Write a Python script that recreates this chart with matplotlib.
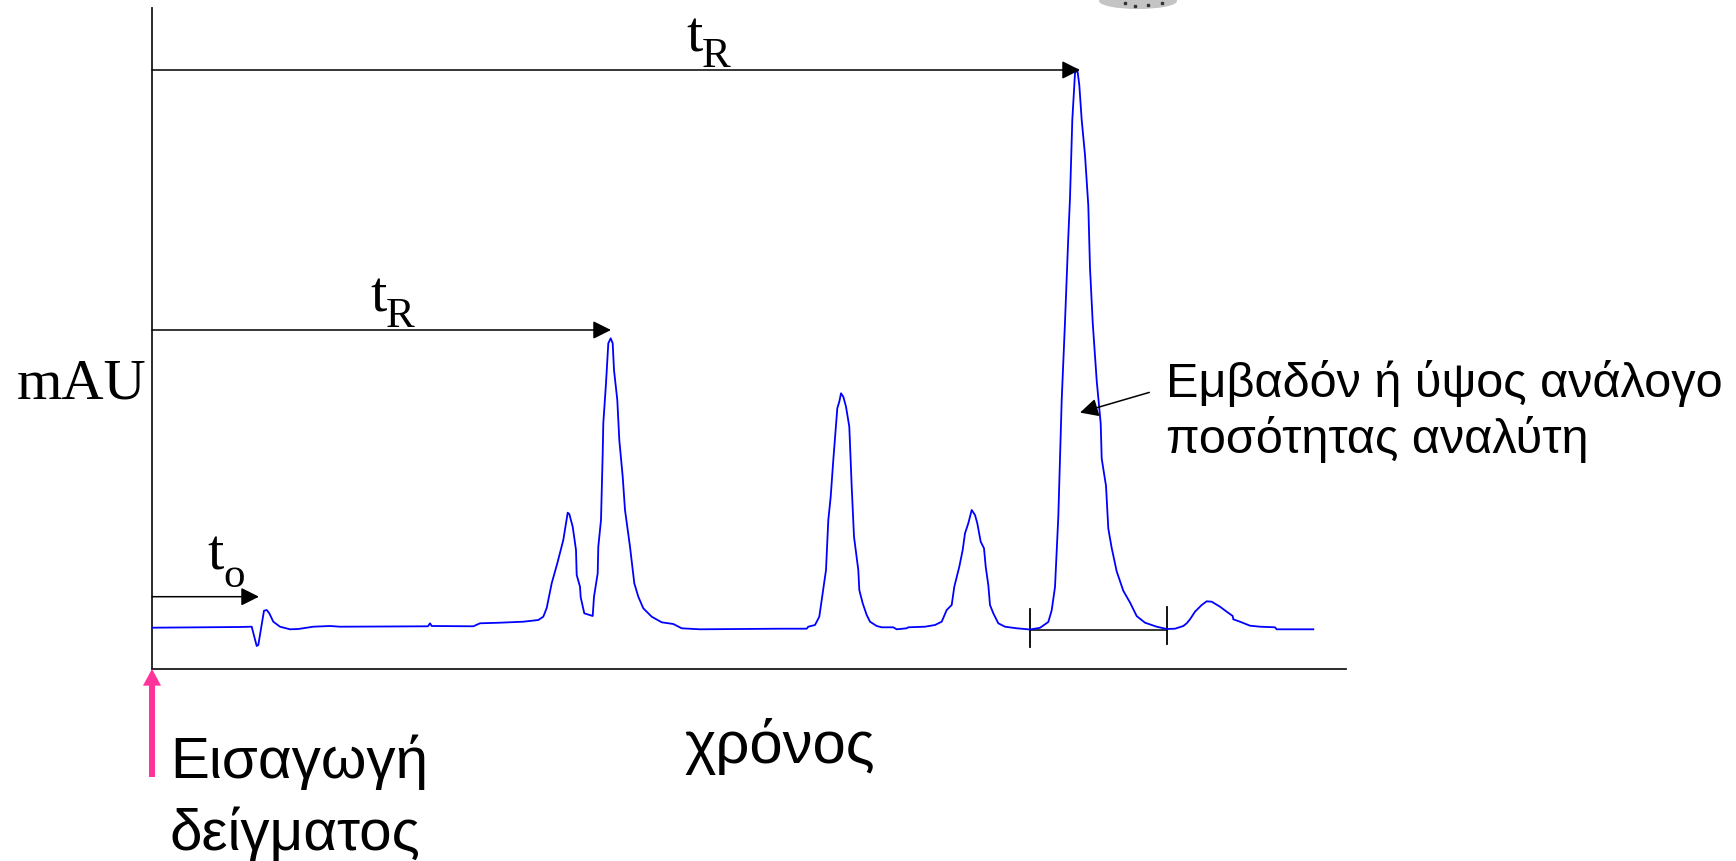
"""
Schematic chromatogram: dead time t0, retention times tR and the
integrated area of the main peak (Greek labels, as in the lecture slide).

    python plot.py            # writes out.png
"""
import matplotlib
matplotlib.use("Agg")
import matplotlib.pyplot as plt
from matplotlib.patches import FancyArrowPatch, Ellipse

# detector trace (time in arbitrary units, signal in mAU)
time = [0.0, 8.8, 9.97, 10.47, 10.63, 11.2, 11.47, 11.73, 12.13, 12.8, 13.8, 14.63,
        16.13, 17.8, 18.8, 26.8, 27.6, 27.8, 27.97, 32.13, 32.8, 34.8, 37.13, 38.63,
        39.13, 39.47, 39.97, 40.53, 41.13, 41.57, 41.73, 42.07, 42.4, 42.47, 42.8,
        42.87, 43.23, 44.07, 44.2, 44.57, 44.63, 44.9, 45.07, 45.13, 45.4, 45.63,
        45.87, 46.07, 46.2, 46.53, 46.73, 47.07, 47.3, 47.8, 48.23, 48.63, 49.13,
        49.97, 50.97, 52.13, 52.97, 54.8, 62.8, 65.47, 65.63, 66.3, 66.73, 66.97,
        67.4, 67.63, 67.87, 68.13, 68.53, 68.73, 68.9, 69.13, 69.4, 69.73, 69.97,
        70.2, 70.63, 70.73, 71.07, 71.47, 71.8, 72.47, 72.97, 74.13, 74.47, 75.47,
        75.63, 77.3, 78.3, 78.97, 79.47, 79.97, 80.23, 80.73, 81.07, 81.3, 81.63,
        81.97, 82.3, 82.53, 82.87, 83.2, 83.37, 83.63, 83.8, 84.13, 84.63, 85.3,
        86.47, 87.8, 88.8, 89.63, 89.97, 90.3, 90.63, 90.97, 91.3, 91.63, 91.8,
        92.03, 92.3, 92.53, 92.73, 92.97, 93.3, 93.63, 93.8, 94.07, 94.47, 94.87,
        94.97, 95.4, 95.63, 95.97, 96.47, 96.8, 97.13, 97.8, 98.47, 99.3, 100.47,
        101.47, 102.3, 103.13, 103.47, 103.8, 104.3, 104.97, 105.47, 105.97, 106.8,
        107.47, 108.07, 108.13, 108.8, 109.8, 110.8, 112.3, 112.47, 116.13]
signal = [8.26, 8.4, 8.46, 4.6, 4.8, 11.66, 11.8, 11.14, 9.46, 8.46, 7.94, 8.0,
          8.46, 8.6, 8.46, 8.54, 8.54, 9.14, 8.6, 8.54, 9.14, 9.26, 9.46, 9.8,
          10.46, 12.2, 17.14, 21.14, 25.8, 31.26, 31.0, 28.46, 23.8, 18.8, 16.46,
          14.34, 11.14, 10.6, 14.46, 19.14, 24.46, 29.8, 43.14, 49.14, 57.14, 65.14,
          66.14, 65.14, 59.8, 53.8, 45.8, 38.46, 31.8, 24.46, 17.14, 14.46, 12.14,
          10.46, 9.34, 9.0, 8.14, 7.94, 8.06, 8.06, 8.46, 8.8, 10.46, 13.8,
          19.8, 29.8, 34.46, 41.8, 52.14, 53.46, 55.14, 54.46, 52.46, 48.46, 36.46,
          26.46, 19.8, 15.8, 13.14, 10.8, 9.46, 8.6, 8.34, 8.34, 7.94, 8.14,
          8.34, 8.46, 8.8, 9.46, 11.8, 12.8, 16.46, 20.46, 23.8, 27.14, 29.14,
          31.8, 30.8, 29.14, 25.46, 24.14, 20.46, 16.8, 12.8, 11.14, 9.14, 8.46,
          8.14, 7.9, 8.24, 9.4, 11.74, 16.4, 30.4, 53.8, 69.4, 86.44, 94.22,
          109.8, 119.14, 119.9, 116.8, 109.8, 102.8, 92.68, 80.22, 69.32, 57.66, 49.1,
          42.08, 36.64, 28.08, 24.2, 19.52, 17.58, 15.64, 13.3, 10.58, 9.26, 8.46,
          8.0, 8.06, 8.6, 9.14, 9.94, 11.46, 12.8, 13.54, 13.46, 12.46,
          11.46, 10.6, 9.94, 9.46, 8.66, 8.46, 8.34, 7.94, 7.94]

t_dead = 10.7                 # t0, end of the injection disturbance
t_ret = [45.9, 92.8]          # tR of the two marked peaks
area_start, area_end = 87.8, 101.5   # integration limits of the big peak
area_base = 7.9

y_label = "mAU"
x_label = "χρόνος"
inject_label = ["Εισαγωγή", "δείγματος"]
area_label = ["Εμβαδόν ή ύψος ανάλογο", "ποσότητας αναλύτη"]

SERIF = "Liberation Serif"
SANS = "Liberation Sans"
BLUE = "#0000ff"
PINK = "#ff3399"
INK = "#1a1a1a"
W, H = 1736, 861


def harrow(ax, p0, p1):
    ax.add_patch(FancyArrowPatch(p0, p1, arrowstyle="-|>,head_length=11,head_width=5.5",
                                 mutation_scale=1, lw=1.1, color="black",
                                 shrinkA=0, shrinkB=0, clip_on=False, zorder=4))


def t_label(ax, x, y, sub, dx, dy):
    ax.text(x, y, "t", fontsize=42, family=SERIF, va="baseline", ha="left")
    ax.text(x + dx, y - dy, sub, fontsize=31, family=SERIF, va="baseline", ha="left")


def main():
    fig = plt.figure(figsize=(W / 100, H / 100), dpi=100)
    ax = fig.add_axes([152 / W, 1 - 669 / H, 1194 / W, 661 / H])
    ax.set_xlim(0, 119.4)
    ax.set_ylim(0, 132.2)
    for s in ("top", "right"):
        ax.spines[s].set_visible(False)
    for s in ("left", "bottom"):
        ax.spines[s].set_linewidth(1.3)
        ax.spines[s].set_color(INK)
    ax.set_xticks([])
    ax.set_yticks([])

    # integration baseline with its two limit ticks
    ax.plot([area_start, area_end], [area_base, area_base], color="black", lw=1.1, zorder=2)
    ax.plot([area_start, area_start], [4.4, 12.0], color="black", lw=1.3, zorder=2)
    ax.plot([area_end, area_end], [5.0, 12.5], color="black", lw=1.3, zorder=2)

    ax.plot(time, signal, color=BLUE, lw=1.3, zorder=3)

    # t0 / tR arrows from the injection point
    harrow(ax, (0, 14.46), (t_dead, 14.46))
    harrow(ax, (0, 67.8), (t_ret[0], 67.8))
    harrow(ax, (0, 119.8), (t_ret[1], 119.8))
    t_label(ax, 5.56, 19.8, "o", 1.54, 3.34)
    t_label(ax, 21.8, 71.4, "R", 1.6, 3.0)
    t_label(ax, 53.4, 123.4, "R", 1.6, 3.0)

    # area/height annotation
    harrow(ax, (99.73, 55.32), (92.8, 51.28))
    ax.text(101.4, 54.46, area_label[0], fontsize=35, family=SANS, va="baseline")
    ax.text(101.4, 43.2, area_label[1], fontsize=35, family=SANS, va="baseline")

    ax.text(-0.6, 54.08, y_label, fontsize=42, family=SERIF, ha="right", va="baseline")
    ax.text(62.8, -18.8, x_label, fontsize=43, family=SANS, ha="center", va="baseline")

    # sample injection marker
    ax.add_patch(FancyArrowPatch((0, -21.6), (0, 0),
                                 arrowstyle="simple,head_length=12,head_width=13,tail_width=4.3",
                                 mutation_scale=1, color=PINK, lw=0,
                                 shrinkA=0, shrinkB=0, clip_on=False, zorder=5))
    ax.text(1.8, -21.8, inject_label[0], fontsize=42, family=SANS, va="baseline")
    ax.text(1.8, -36.2, inject_label[1], fontsize=42, family=SANS, va="baseline")

    # bit of a cut-off picture at the top edge of the slide
    fig.add_artist(Ellipse((1138 / W, 1 - 1 / H), 78 / W, 16 / H,
                           transform=fig.transFigure, color="#c4c4c4", lw=0))
    fig.add_artist(plt.Line2D([1125 / W, 1135 / W, 1148 / W, 1162 / W],
                              [1 - 3 / H, 1 - 6 / H, 1 - 5 / H, 1 - 3 / H],
                              ls="", marker="s", ms=2, color="#333333",
                              transform=fig.transFigure))

    fig.savefig("out.png", dpi=100)
    plt.close(fig)


if __name__ == "__main__":
    main()
